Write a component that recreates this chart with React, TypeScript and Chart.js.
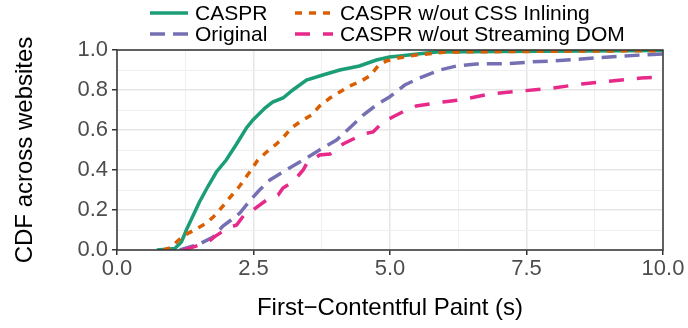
import React, { useEffect, useRef } from "react";
import { Chart, registerables } from "chart.js";

Chart.register(...registerables);

// First-Contentful Paint CDF samples (seconds, cumulative fraction)
const CASPR_X = [0.73, 0.9, 1.06, 1.18, 1.27, 1.39, 1.51, 1.67, 1.82, 2.0, 2.19, 2.37, 2.49, 2.71, 2.85, 3.04, 3.22, 3.47, 3.77, 4.08, 4.44, 4.75, 4.99, 5.18, 5.5, 5.85, 7.0, 8.5, 10];
const CASPR_Y = [0, 0.004, 0.008, 0.04, 0.1, 0.17, 0.24, 0.32, 0.39, 0.45, 0.53, 0.61, 0.65, 0.71, 0.74, 0.76, 0.8, 0.85, 0.875, 0.9, 0.92, 0.95, 0.965, 0.97, 0.98, 0.99, 0.992, 0.995, 0.997];

const ORIGINAL_X = [1.15, 1.51, 1.76, 1.94, 2.09, 2.25, 2.43, 2.61, 2.8, 2.95, 3.16, 3.47, 3.77, 4.02, 4.26, 4.51, 4.75, 4.99, 5.27, 5.54, 5.91, 6.22, 6.58, 7.19, 7.56, 7.99, 8.44, 8.87, 9.27, 9.82, 10];
const ORIGINAL_Y = [0, 0.03, 0.065, 0.12, 0.15, 0.185, 0.245, 0.3, 0.35, 0.375, 0.41, 0.46, 0.51, 0.55, 0.61, 0.675, 0.725, 0.765, 0.825, 0.86, 0.9, 0.92, 0.93, 0.932, 0.94, 0.945, 0.953, 0.963, 0.97, 0.978, 0.98];

const NO_CSS_X = [0.85, 0.97, 1.09, 1.21, 1.45, 1.64, 1.82, 2.06, 2.22, 2.43, 2.58, 2.74, 2.92, 3.04, 3.19, 3.35, 3.56, 3.71, 3.9, 4.08, 4.26, 4.44, 4.63, 4.78, 4.93, 5.15, 5.48, 6.03, 7.5, 10];
const NO_CSS_Y = [0, 0.01, 0.04, 0.07, 0.105, 0.135, 0.18, 0.26, 0.31, 0.39, 0.45, 0.49, 0.53, 0.56, 0.61, 0.64, 0.675, 0.72, 0.76, 0.79, 0.82, 0.84, 0.87, 0.92, 0.945, 0.96, 0.975, 0.99, 0.993, 0.997];

const NO_STREAM_X = [1.21, 1.42, 1.67, 1.79, 2.03, 2.19, 2.37, 2.49, 2.74, 2.95, 3.04, 3.22, 3.41, 3.47, 3.71, 3.9, 4.14, 4.51, 4.69, 4.87, 5.05, 5.3, 5.48, 5.73, 5.97, 6.28, 6.83, 7.41, 7.99, 8.51, 9.06, 9.6, 10];
const NO_STREAM_Y = [0, 0.017, 0.04, 0.067, 0.11, 0.125, 0.19, 0.2, 0.25, 0.275, 0.31, 0.34, 0.4, 0.43, 0.475, 0.48, 0.53, 0.58, 0.59, 0.64, 0.665, 0.7, 0.72, 0.73, 0.74, 0.75, 0.78, 0.795, 0.81, 0.83, 0.845, 0.86, 0.865];

const SERIES_LABELS = ["CASPR", "Original", "CASPR w/out CSS Inlining", "CASPR w/out Streaming DOM"];
const SERIES_COLORS = ["#1B9E77", "#7570B3", "#D95F02", "#E7298A"];
const SERIES_DASHES: number[][] = [[], [15, 8], [7, 7], [15, 13]];

const X_TITLE = "First\u2212Contentful Paint (s)";
const Y_TITLE = "CDF across websites";
const X_MIN = 0;
const X_MAX = 10;
const X_MAJOR_STEP = 2.5;
const Y_MIN = 0;
const Y_MAX = 1;
const Y_MAJOR_STEP = 0.2;

const FONT = "'Liberation Sans', Arial, Helvetica, sans-serif";
const LINE_WIDTH = 3.5;

const toPoints = (xs: number[], ys: number[]) => xs.map((x, i) => ({ x, y: ys[i] }));

const isMajor = (v: number, step: number) => {
  const r = v / step;
  return Math.abs(r - Math.round(r)) < 1e-6;
};

// 2x2 legend above the panel, filled column by column
const legendPlugin = {
  id: "gridLegend",
  afterDraw(chart: any) {
    const { ctx } = chart;
    const cols = [150, 295];
    const rows = [13, 34];
    const keyLen = 38;
    ctx.save();
    ctx.font = `21px ${FONT}`;
    ctx.textBaseline = "middle";
    ctx.textAlign = "left";
    chart.data.datasets.forEach((ds: any, i: number) => {
      const col = Math.floor(i / 2);
      const row = i % 2;
      const x0 = cols[col];
      const y = rows[row];
      ctx.beginPath();
      ctx.strokeStyle = ds.borderColor;
      ctx.lineWidth = ds.borderWidth;
      ctx.setLineDash(ds.borderDash || []);
      ctx.lineCap = "butt";
      ctx.moveTo(x0, y);
      ctx.lineTo(x0 + keyLen, y);
      ctx.stroke();
      ctx.setLineDash([]);
      ctx.fillStyle = "#000000";
      ctx.fillText(ds.label, x0 + keyLen + 7, y + 1);
    });
    ctx.restore();
  },
};

// dark frame around the plotting panel
const panelBorderPlugin = {
  id: "panelBorder",
  afterDatasetsDraw(chart: any) {
    const { ctx, chartArea } = chart;
    ctx.save();
    ctx.strokeStyle = "#333333";
    ctx.lineWidth = 1.5;
    ctx.strokeRect(chartArea.left, chartArea.top, chartArea.right - chartArea.left, chartArea.bottom - chartArea.top);
    ctx.restore();
  },
};

export default function App() {
  const canvasRef = useRef<HTMLCanvasElement | null>(null);

  useEffect(() => {
    if (!canvasRef.current) return;
    const xs = [CASPR_X, ORIGINAL_X, NO_CSS_X, NO_STREAM_X];
    const ys = [CASPR_Y, ORIGINAL_Y, NO_CSS_Y, NO_STREAM_Y];
    const drawOrder = [4, 3, 2, 1];

    const chart = new Chart(canvasRef.current, {
      type: "line",
      data: {
        datasets: SERIES_LABELS.map((label, i) => ({
          label,
          data: toPoints(xs[i], ys[i]),
          borderColor: SERIES_COLORS[i],
          backgroundColor: SERIES_COLORS[i],
          borderWidth: LINE_WIDTH,
          borderDash: SERIES_DASHES[i],
          borderCapStyle: "butt",
          pointRadius: 0,
          tension: 0,
          fill: false,
          order: drawOrder[i],
        })),
      },
      options: {
        animation: false,
        responsive: false,
        devicePixelRatio: 1,
        layout: { padding: { top: 50, right: 25, left: 0, bottom: 0 } },
        plugins: {
          legend: { display: false },
          tooltip: { enabled: false },
        },
        scales: {
          x: {
            type: "linear",
            min: X_MIN,
            max: X_MAX,
            afterFit: (scale: any) => {
              scale.height = 78;
            },
            ticks: {
              stepSize: X_MAJOR_STEP / 2,
              padding: 1,
              color: "#4D4D4D",
              font: { family: FONT, size: 22 },
              maxRotation: 0,
              autoSkip: false,
              callback: (v: any) => (isMajor(Number(v), X_MAJOR_STEP) ? Number(v).toFixed(1) : ""),
            },
            grid: {
              color: (c: any) => (isMajor(c.tick.value, X_MAJOR_STEP) ? "#E6E6E6" : "#EFEFEF"),
              lineWidth: (c: any) => (isMajor(c.tick.value, X_MAJOR_STEP) ? 1.5 : 1),
              tickColor: (c: any) => (isMajor(c.tick.value, X_MAJOR_STEP) ? "#333333" : "rgba(0,0,0,0)"),
              tickLength: 5,
              tickWidth: 1.5,
            },
            border: { display: false },
            title: {
              display: true,
              text: X_TITLE,
              color: "#000000",
              font: { family: FONT, size: 24 },
              padding: { top: 0, bottom: 5.6 },
            },
          },
          y: {
            type: "linear",
            min: Y_MIN,
            max: Y_MAX,
            afterFit: (scale: any) => {
              scale.width = 117;
            },
            ticks: {
              stepSize: Y_MAJOR_STEP / 2,
              padding: 4,
              color: "#4D4D4D",
              font: { family: FONT, size: 22 },
              autoSkip: false,
              callback: (v: any) => (isMajor(Number(v), Y_MAJOR_STEP) ? Number(v).toFixed(1) : ""),
            },
            grid: {
              color: (c: any) => (isMajor(c.tick.value, Y_MAJOR_STEP) ? "#E6E6E6" : "#EFEFEF"),
              lineWidth: (c: any) => (isMajor(c.tick.value, Y_MAJOR_STEP) ? 1.5 : 1),
              tickColor: (c: any) => (isMajor(c.tick.value, Y_MAJOR_STEP) ? "#333333" : "rgba(0,0,0,0)"),
              tickLength: 5,
              tickWidth: 1.5,
            },
            border: { display: false },
            title: {
              display: true,
              text: Y_TITLE,
              color: "#000000",
              font: { family: FONT, size: 24 },
              padding: { top: 10.6, bottom: 0 },
            },
          },
        },
      },
      plugins: [panelBorderPlugin, legendPlugin],
    } as any);

    return () => chart.destroy();
  }, []);

  return (
    <div style={{ position: "fixed", left: 0, top: 0, width: 688, height: 328, background: "#FFFFFF" }}>
      <canvas ref={canvasRef} width={688} height={328} style={{ display: "block" }} />
    </div>
  );
}
